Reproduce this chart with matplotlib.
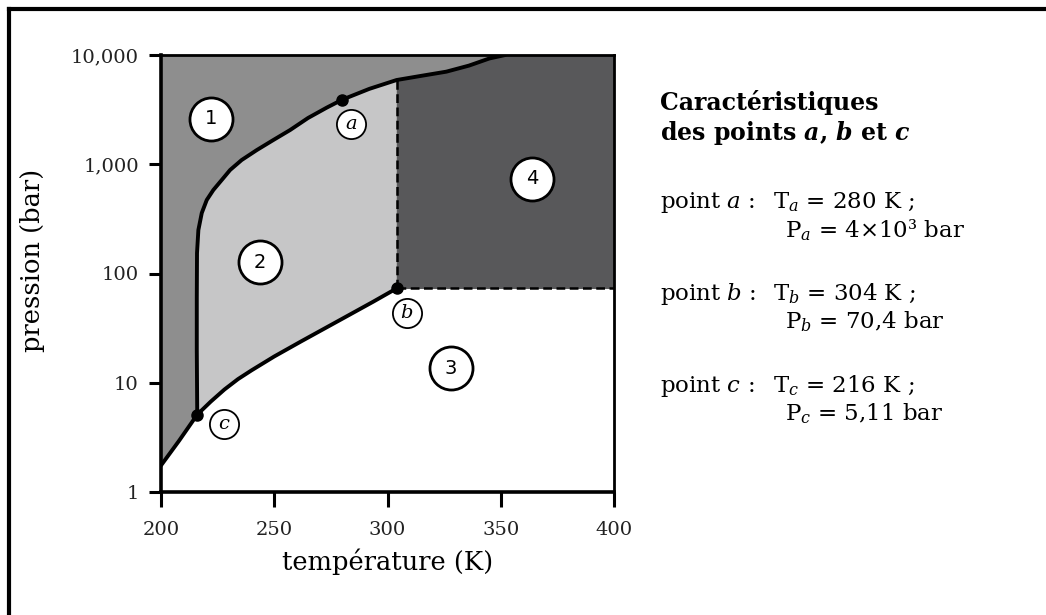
import numpy as np
import matplotlib
matplotlib.use('Agg')
import matplotlib.pyplot as plt
from matplotlib.lines import Line2D

plt.rcParams['font.family'] = ['DejaVu Serif']
plt.rcParams['mathtext.fontset'] = 'dejavuserif'

# curves (T in K, P in bar)
sub_T = [200, 208, 216]
sub_P = [1.75, 2.95, 5.11]

vap_T = [216, 222, 228, 234, 240, 250, 262, 279, 293.7, 304]
vap_P = [5.11, 6.73, 8.67, 10.8, 13.0, 17.4, 24.0, 37.5, 55.2, 73]

melt_T = [216, 215.8, 215.8, 215.9, 216.5, 218.0, 220.2, 223.1, 226.8, 230.5,
          235.6, 242.3, 249.6, 257.0, 264.9, 273.2, 280, 292, 304, 315,
          326, 336, 345, 352]
melt_P = [5.11, 20, 60, 154, 250, 358, 471, 581, 717, 886,
          1093, 1349, 1667, 2057, 2650, 3300, 3900, 4900, 5900, 6450,
          7040, 8000, 9300, 10000]

# points a, b, c
pts_T = [280, 304, 216]
pts_P = [3900, 73, 5.11]
pts_lab = ['$a$', '$b$', '$c$']
pts_lab_T = [284, 308.5, 228]
pts_lab_P = [2330, 43.5, 4.2]

# numbered zones
zone_lab = ['1', '2', '3', '4']
zone_T = [222, 243.5, 328, 364]
zone_P = [2600, 127, 13.6, 740]

yticks = [1, 10, 100, 1000, 10000]
ytick_labels = ['1', '10', '100', '1,000', '10,000']
xticks = [200, 250, 300, 350, 400]

c1 = '#8e8e8e'
c2 = '#c6c6c7'
c4 = '#58585a'

fig = plt.figure(figsize=(10.46, 6.15), dpi=100)
ax = fig.add_axes([161/1046, 1-492/615, 453/1046, 437/615])
ax.set_yscale('log')
ax.set_xlim(200, 400)
ax.set_ylim(1, 10000)

# zone 1 : everything above sublimation / vaporisation / P_b line
low_T = sub_T + vap_T[1:] + [400]
low_P = sub_P + vap_P[1:] + [vap_P[-1]]
ax.fill_between(low_T, low_P, 10000, color=c1, lw=0, zorder=1)

# zone 4
i_b = melt_T.index(304)
ax.fill_between(melt_T[i_b:] + [400], vap_P[-1], melt_P[i_b:] + [10000],
                color=c4, lw=0, zorder=2)

# zone 2
z2_T = melt_T[:i_b+1] + vap_T[::-1]
z2_P = melt_P[:i_b+1] + vap_P[::-1]
ax.fill(z2_T, z2_P, color=c2, lw=0, zorder=2)

# boundary lines
for tt, pp in [(sub_T, sub_P), (vap_T, vap_P), (melt_T, melt_P)]:
    ax.plot(tt, pp, color='black', lw=2.8, solid_capstyle='round',
            solid_joinstyle='round', zorder=4)
ax.plot([304, 304], [vap_P[-1], melt_P[i_b]], color='black', lw=1.8,
        ls=(0, (3.5, 1.8)), zorder=3)
ax.plot([304, 400], [vap_P[-1], vap_P[-1]], color='black', lw=1.8,
        ls=(0, (3.5, 1.8)), zorder=3)

ax.plot(pts_T, pts_P, 'o', color='black', ms=8, zorder=5)

for lab, t, p in zip(zone_lab, zone_T, zone_P):
    ax.plot(t, p, 'o', ms=31, mfc='white', mec='black', mew=2, zorder=6)
    ax.text(t, p, lab, ha='center', va='center', fontsize=14,
            family='DejaVu Sans', zorder=7)

for lab, t, p in zip(pts_lab, pts_lab_T, pts_lab_P):
    ax.plot(t, p, 'o', ms=21, mfc='white', mec='black', mew=1.3, zorder=6)
    ax.text(t, p, lab, ha='center', va='center', fontsize=14, zorder=7)

ax.set_yticks(yticks)
ax.set_yticklabels(ytick_labels)
ax.yaxis.set_minor_locator(matplotlib.ticker.NullLocator())
ax.set_xticks(xticks)
ax.tick_params(axis='both', direction='out', width=2.2,
               labelsize=14, labelcolor='#222222')
ax.tick_params(axis='y', length=9, pad=7)
ax.tick_params(axis='x', length=11, pad=10)
for s in ax.spines.values():
    s.set_linewidth(2)
    s.set_zorder(8)
ax.spines['left'].set_linewidth(2.6)
ax.spines['bottom'].set_linewidth(2.6)

ax.set_xlabel('température (K)', fontsize=18.5, labelpad=7)
ax.set_ylabel('pression (bar)', fontsize=18.5)
ax.yaxis.set_label_coords(-0.256, 0.529)

# right side text
def ftext(x, y, s, **kw):
    fig.text(x/1046, 1-y/615, s, va='baseline', ha='left', **kw)

ftext(660, 110, 'Caractéristiques', fontsize=17, fontweight='bold')
ftext(660, 140, r'des points $\mathbfit{a}$, $\mathbfit{b}$ et $\mathbfit{c}$',
      fontsize=17, fontweight='bold')

fs = 16.5
ftext(660, 208, r'point $a$ :', fontsize=fs)
ftext(773, 208, r'$\mathrm{T}_a$ = 280 K ;', fontsize=fs)
ftext(785, 237, r'$\mathrm{P}_a$ = 4×10³ bar', fontsize=fs)

ftext(660, 300, r'point $b$ :', fontsize=fs)
ftext(773, 300, r'$\mathrm{T}_b$ = 304 K ;', fontsize=fs)
ftext(785, 328, r'$\mathrm{P}_b$ = 70,4 bar', fontsize=fs)

ftext(660, 392, r'point $c$ :', fontsize=fs)
ftext(773, 392, r'$\mathrm{T}_c$ = 216 K ;', fontsize=fs)
ftext(785, 420, r'$\mathrm{P}_c$ = 5,11 bar', fontsize=fs)

# frame (left and top only)
fig.add_artist(Line2D([9/1046, 9/1046], [0, 1-9/615], color='black', lw=3))
fig.add_artist(Line2D([9/1046, 1], [1-9/615, 1-9/615], color='black', lw=3))

fig.savefig('out.png', dpi=100)
